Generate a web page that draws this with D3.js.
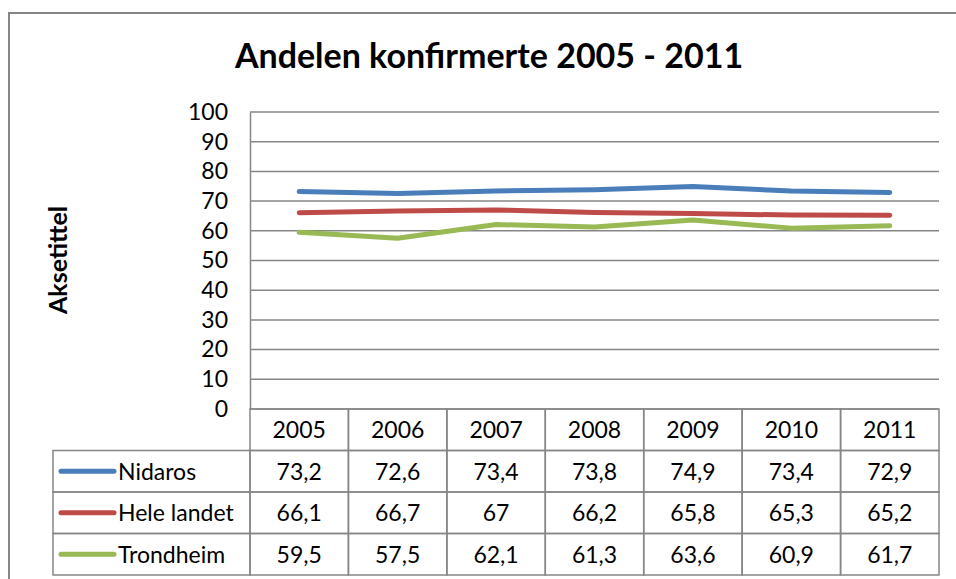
<!DOCTYPE html>
<html>
<head>
<meta charset="utf-8">
<script src="https://cdn.jsdelivr.net/npm/d3@7"></script>
<style>
  body { margin: 0; background: #fff; }
  text { font-family: Lato, "Open Sans", sans-serif; fill: #000; }
</style>
</head>
<body>
<div id="chart"></div>
<script>
// Data
const years = ["2005", "2006", "2007", "2008", "2009", "2010", "2011"];
const seriesNames = ["Nidaros", "Hele landet", "Trondheim"];
const nidaros = [73.2, 72.6, 73.4, 73.8, 74.9, 73.4, 72.9];
const heleLandet = [66.1, 66.7, 67, 66.2, 65.8, 65.3, 65.2];
const trondheim = [59.5, 57.5, 62.1, 61.3, 63.6, 60.9, 61.7];
const yTicks = [0, 10, 20, 30, 40, 50, 60, 70, 80, 90, 100];
const colors = ["#4A7EBB", "#BE4B48", "#98B954"];

const series = seriesNames.map((name, i) => ({
    name: name,
    values: [nidaros, heleLandet, trondheim][i],
    color: colors[i]
}));

const W = 956, H = 579;
const plot = {left: 250, right: 939, top: 112, bottom: 409};
const tableLeft = 53;
const rowH = 41.5;
const gridColor = "#868686";

const svg = d3.select("#chart")
    .append("svg")
    .attr("width", W)
    .attr("height", H);

// Outer chart border (runs off the right and bottom edges)
svg.append("rect")
    .attr("x", 9)
    .attr("y", 13)
    .attr("width", W + 20)
    .attr("height", H + 20)
    .attr("fill", "none")
    .attr("stroke", gridColor)
    .attr("stroke-width", 2);

// Title
svg.append("text")
    .attr("x", 489)
    .attr("y", 68)
    .attr("text-anchor", "middle")
    .style("font-size", "34px")
    .style("font-weight", "bold")
    .text("Andelen konfirmerte 2005 - 2011");

// Scales
const x = d3.scaleBand()
    .domain(years)
    .range([plot.left, plot.right])
    .padding(0);

const y = d3.scaleLinear()
    .domain([0, 100])
    .range([plot.bottom, plot.top]);

// Gridlines
svg.append("g")
    .selectAll("line")
    .data(yTicks)
    .enter()
    .append("line")
    .attr("x1", plot.left)
    .attr("x2", plot.right)
    .attr("y1", d => y(d))
    .attr("y2", d => y(d))
    .attr("stroke", gridColor)
    .attr("stroke-width", 1.5);

// Y axis
const yAxis = svg.append("g")
    .attr("transform", `translate(${plot.left},0)`)
    .call(d3.axisLeft(y).tickValues(yTicks).tickSize(0).tickPadding(22));
yAxis.select(".domain")
    .attr("stroke", gridColor)
    .attr("stroke-width", 1.5);
yAxis.selectAll("text")
    .style("font-size", "23px")
    .style("font-family", "Lato, sans-serif");

// Axis title
svg.append("text")
    .attr("transform", "translate(67,260) rotate(-90)")
    .attr("text-anchor", "middle")
    .style("font-size", "25px")
    .style("font-weight", "bold")
    .text("Aksetittel");

// Lines
const line = d3.line()
    .x((d, i) => x(years[i]) + x.bandwidth() / 2)
    .y(d => y(d));

svg.selectAll(".series")
    .data(series)
    .enter()
    .append("path")
    .attr("class", "series")
    .attr("d", d => line(d.values))
    .attr("fill", "none")
    .attr("stroke", d => d.color)
    .attr("stroke-width", 5)
    .attr("stroke-linecap", "round")
    .attr("stroke-linejoin", "round");

// Data table
const table = svg.append("g");
const headerTop = plot.bottom;

// Header row (years)
years.forEach(yr => {
    table.append("rect")
        .attr("x", x(yr))
        .attr("y", headerTop)
        .attr("width", x.bandwidth())
        .attr("height", rowH)
        .attr("fill", "none")
        .attr("stroke", gridColor)
        .attr("stroke-width", 1.5);
    table.append("text")
        .attr("x", x(yr) + x.bandwidth() / 2)
        .attr("y", headerTop + rowH / 2)
        .attr("dy", "0.36em")
        .attr("text-anchor", "middle")
        .style("font-size", "23px")
        .text(yr);
});

// Series rows
series.forEach((s, r) => {
    const top = headerTop + rowH * (r + 1);
    const mid = top + rowH / 2;

    table.append("rect")
        .attr("x", tableLeft)
        .attr("y", top)
        .attr("width", plot.left - tableLeft)
        .attr("height", rowH)
        .attr("fill", "none")
        .attr("stroke", gridColor)
        .attr("stroke-width", 1.5);

    table.append("line")
        .attr("x1", 61)
        .attr("x2", 114)
        .attr("y1", mid)
        .attr("y2", mid)
        .attr("stroke", s.color)
        .attr("stroke-width", 5)
        .attr("stroke-linecap", "round");

    table.append("text")
        .attr("x", 118)
        .attr("y", mid)
        .attr("dy", "0.36em")
        .style("font-size", "23px")
        .text(s.name);

    s.values.forEach((v, i) => {
        table.append("rect")
            .attr("x", x(years[i]))
            .attr("y", top)
            .attr("width", x.bandwidth())
            .attr("height", rowH)
            .attr("fill", "none")
            .attr("stroke", gridColor)
            .attr("stroke-width", 1.5);
        table.append("text")
            .attr("x", x(years[i]) + x.bandwidth() / 2)
            .attr("y", mid)
            .attr("dy", "0.36em")
            .attr("text-anchor", "middle")
            .style("font-size", "23px")
            .text(String(v).replace(".", ","));
    });
});
</script>
</body>
</html>
